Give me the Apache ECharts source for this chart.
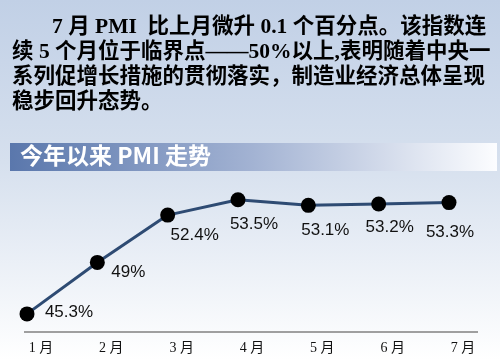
<!DOCTYPE html>
<html><head><meta charset="utf-8">
<script src="https://cdn.jsdelivr.net/npm/echarts@6/dist/echarts.min.js"></script>
<style>html,body{margin:0;padding:0;}
#c{width:500px;height:360px;background:linear-gradient(to bottom,#c1d0e6 0%,#d6e0ee 45%,#ffffff 100%);}</style>
</head><body><div id="c"></div>
<script>
const months = ['1 月','2 月','3 月','4 月','5 月','6 月','7 月'];
const pmiValues = [45.3, 49, 52.4, 53.5, 53.1, 53.2, 53.3];
const headerLines = [
  '7 月 PMI  比上月微升 0.1 个百分点。该指数连',
  '续 5 个月位于临界点——50%以上,表明随着中央一',
  '系列促增长措施的贯彻落实，制造业经济总体呈现',
  '稳步回升态势。'
];
const chartTitle = '今年以来 PMI 走势';
const yMin = 44, yMax = 56;
// label offsets (layout only)
const labelOffsets = [[42,-2],[31,10],[27,20],[16,25],[17,25],[11,23],[1,30]];

const chart = echarts.init(document.getElementById('c'), null, {renderer:'canvas'});
const serifCJK = '"Liberation Serif", "Noto Sans CJK SC", serif';
const headerX = [52, 12, 12, 12];
const headerY = [30, 55, 80, 105];
const graphics = headerLines.map((t,i)=>({
  id:'h'+i, type:'text', left: headerX[i], top: headerY[i]-13,
  style:{text:t, fill:'#000', font:'bold 21.5px ' + serifCJK}
}));
graphics.unshift({
  id:'bar', type:'rect', shape:{x:10,y:143,width:487,height:28},
  style:{fill:new echarts.graphic.LinearGradient(0,0,1,0,[
    {offset:0,color:'#5a77ac'},{offset:0.5,color:'#a3b3d3'},{offset:1,color:'#fcfdff'}])}
});
graphics.push({
  id:'title', type:'text', left:20, top:144,
  style:{text:chartTitle, fill:'#fff', font:'bold 23px "Noto Sans CJK SC", sans-serif'}
});

// axis extends 3px left of first point and 29px right of last; point spacing ~70.33px
const idx = months.map((m,i)=>i);
const xMin = -3/70.33, xMax = (months.length-1) + 29/70.33;

chart.setOption({
  animation:false,
  backgroundColor:'transparent',
  graphic: graphics,
  grid:{left:24, right:22, top:165, bottom:28},
  xAxis:{type:'value', min:xMin, max:xMax,
     axisLine:{show:false}, axisTick:{show:false}, splitLine:{show:false},
     axisLabel:{customValues:idx, formatter:v=>months[Math.round(v)],
       color:'#111', fontSize:14, fontFamily:serifCJK, margin:9, padding:[0,0,0,28]}},
  yAxis:{type:'value', min:yMin, max:yMax, axisLine:{show:false}, axisTick:{show:false},
     axisLabel:{show:false}, splitLine:{show:false}},
  series:[{
    type:'line', clip:false,
    data:pmiValues.map((v,i)=>({value:[idx[i], v], label:{offset:labelOffsets[i]}})),
    z:3,
    lineStyle:{color:'#2e4b73', width:3},
    symbol:'circle', symbolSize:15,
    itemStyle:{color:'#000'},
    label:{show:true, position:'inside', color:'#111', fontSize:17,
      fontFamily:'"Liberation Sans", Arial, sans-serif',
      formatter:p=>p.value[1]+'%'}
  }]
});

// baseline along the x axis, positioned through the chart's own scales
const pA = chart.convertToPixel({gridIndex:0}, [xMin, yMin]);
const pB = chart.convertToPixel({gridIndex:0}, [xMax, yMin]);
chart.setOption({
  graphic: graphics.concat([{
    id:'baseline', type:'line', z:10,
    shape:{x1:pA[0], y1:pA[1], x2:pB[0], y2:pB[1]},
    style:{stroke:'#808080', lineWidth:1.5}
  }])
});
</script></body></html>
